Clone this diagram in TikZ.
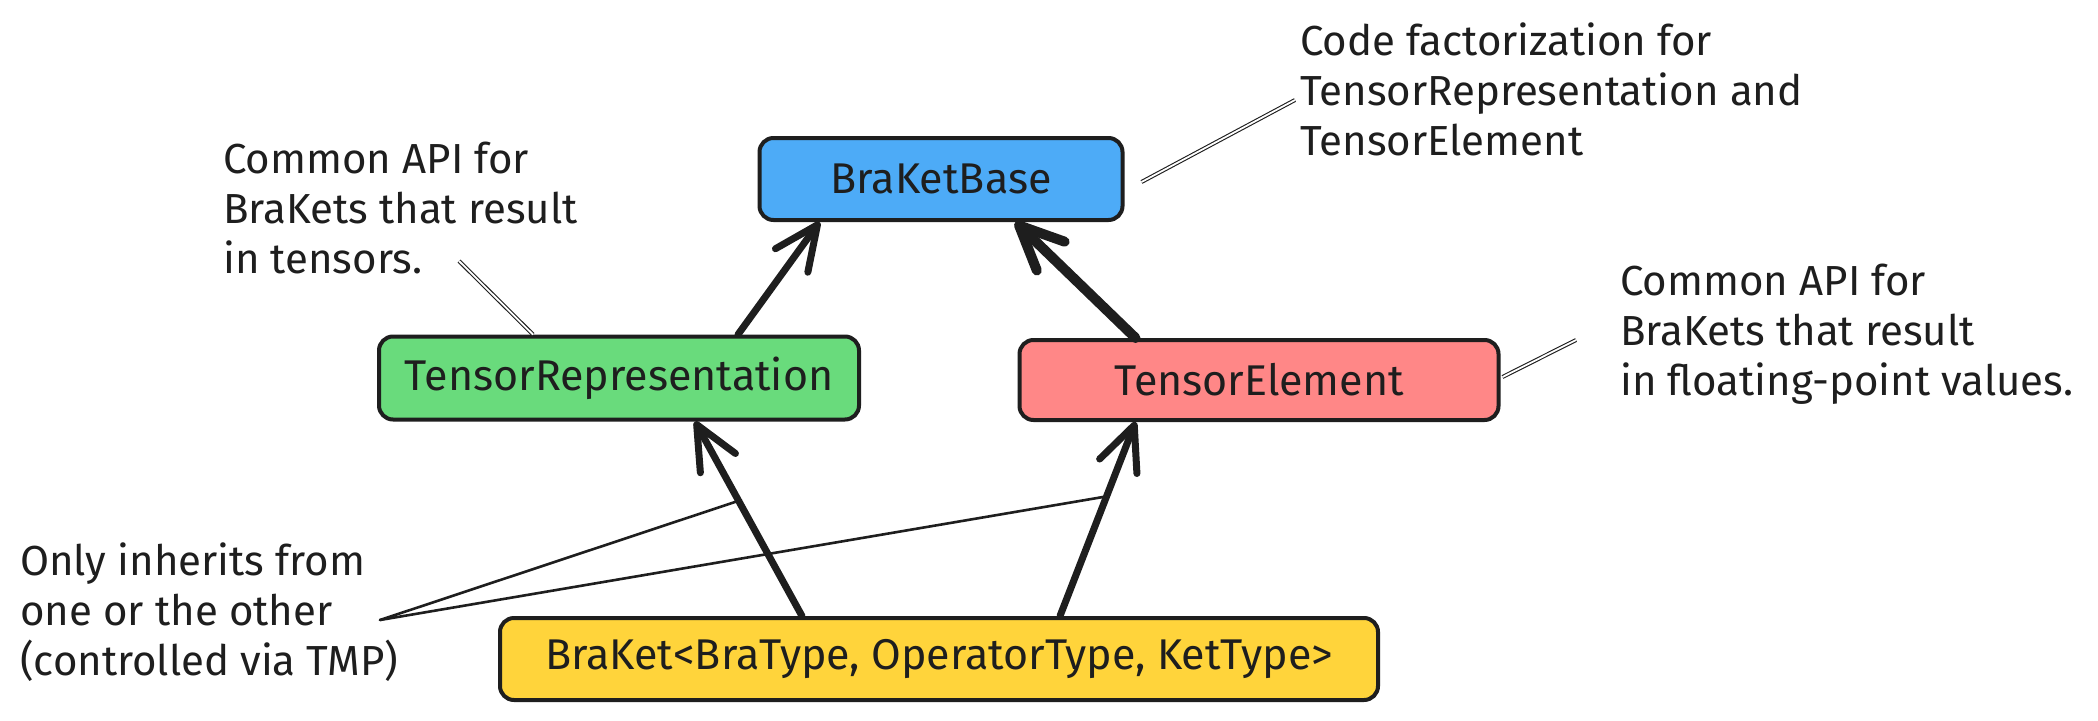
\documentclass[tikz,border=0pt]{standalone}
\usepackage{fontspec}
\setmainfont{Fira Sans}
\usetikzlibrary{arrows.meta,calc}
\definecolor{ink}{HTML}{1E1E1E}
\definecolor{bblue}{HTML}{4DABF7}
\definecolor{bgreen}{HTML}{69DB7C}
\definecolor{bred}{HTML}{FF8787}
\definecolor{byellow}{HTML}{FFD43B}
\tikzset{
  box/.style={draw=ink, line width=4pt, rounded corners=14pt, inner sep=0pt,
    text=ink, font=\fontsize{43}{50}\selectfont},
  txt/.style={text=ink, align=left, inner sep=0pt, font=\fontsize{42}{50}\selectfont},
  inh/.style={draw=ink, line width=7pt, line cap=round,
    -{Straight Barb[length=44pt,width=40pt,line cap=round,line join=round]}},
  inhb/.style={inh, line width=10pt},
  note/.style={draw=ink, line width=1.1pt, double=white, double distance=1.8pt},
  notes/.style={draw=ink, line width=2.6pt, line cap=round}
}
\begin{document}
\begin{tikzpicture}[x=1pt,y=-1pt]
\useasboundingbox[fill=white] (0,0) rectangle (2098,720);
% boxes
\node[box, fill=bblue, minimum width=363, minimum height=82] (bb) at (941,179) {BraKetBase};
\node[box, fill=bgreen, minimum width=480, minimum height=83] (tr) at (619,378) {TensorRepresentation};
\node[box, fill=bred, minimum width=479, minimum height=80] (te) at (1259,380) {TensorElement};
\node[box, fill=byellow, minimum width=878, minimum height=82] (bk) at (939,659) {BraKet<BraType, OperatorType, KetType>};
% annotations (anchor at the baseline of the last line)
\node[txt, anchor=base west] (n1) at (223,273) {Common API for\\BraKets that result\\in tensors.};
\node[txt, anchor=base west] (n2) at (1300,155) {Code factorization for\\TensorRepresentation and\\TensorElement};
\node[txt, anchor=base west] (n3) at (1620,395) {Common API for\\BraKets that result\\in floating-point values.};
\node[txt, anchor=base west] (n4) at (20,675) {Only inherits from\\one or the other\\(controlled via TMP)};
% inheritance arrows
\draw[inh] ($(tr.north west)+(361,0)$) -- ($(bb.south west)+(62,0)$);
\draw[inhb] ($(te.north west)+(118,0)$) -- ($(bb.south west)+(258,0)$);
\draw[inh] ($(bk.north west)+(304,0)$) -- ($(tr.south west)+(318,0)$);
\draw[inh] ($(bk.north west)+(562,0)$) -- ($(te.south west)+(118,0)$);
% note connectors
\coordinate (c1) at (459,261);
\coordinate (c2) at (1295,100);
\coordinate (c3) at (1576,340);
\coordinate (c4) at (380,620);
\coordinate (c4a) at (741,500);
\coordinate (c4b) at (1103,497);
\draw[note] (c1) -- ($(tr.north west)+(156,0)$);
\draw[note] ($(bb.east)+(17,3)$) -- (c2);
\draw[note] ($(te.east)+(2,-3)$) -- (c3);
\draw[notes] (c4) -- (c4a);
\draw[notes] (c4) -- (c4b);
\end{tikzpicture}
\end{document}
